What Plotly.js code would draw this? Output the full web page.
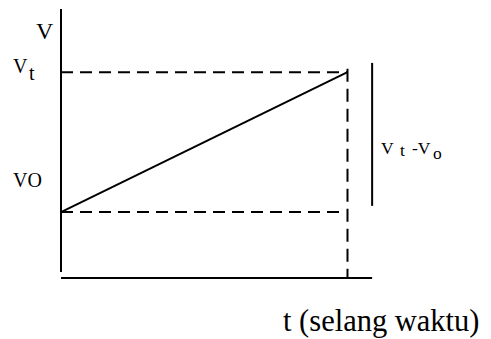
<!DOCTYPE html>
<html>
<head>
<meta charset="utf-8">
<script src="https://cdn.plot.ly/plotly-3.0.1.min.js"></script>
<style>html,body{margin:0;padding:0;background:#fff;}#chart{width:491px;height:339px;}</style>
</head>
<body>
<div id="chart"></div>
<script>
// Data (time and velocity in arbitrary units)
const tValues = [0, 10];          // start and end of the time interval
const vValues = [2, 6.25];        // v0 and vt
const axisT = [0, 10.86];         // horizontal axis extent
const axisV = [0.18, 8.17];       // vertical axis extent
const deltaBarV = [2.19, 6.53];   // bar marking vt - v0
const deltaBarT = 10.86;

// Label pieces: [text, t, v, size, xanchor]
const labelPieces = [
  ['V', -0.56, 7.50, 24, 'center'],
  ['V', -1.70, 6.44, 20, 'left'],
  ['t', -1.15, 6.22, 20, 'left'],
  ['VO', -1.72, 2.99, 20, 'left'],
  ['V', 11.15, 3.96, 17.5, 'left'],
  ['t', 11.80, 3.88, 17.5, 'left'],
  ['-V', 12.22, 3.96, 17.5, 'left'],
  ['o', 12.96, 3.80, 17.5, 'left'],
  ['t (selang waktu)', 7.72, -1.32, 30.5, 'left']
];

const black = '#000';
const fontFam = 'Liberation Serif, Times New Roman, serif';

const traces = [
  {x: [tValues[0], tValues[0]], y: axisV, mode: 'lines', line: {color: black, width: 2}},
  {x: axisT, y: [0, 0], mode: 'lines', line: {color: black, width: 2}},
  {x: tValues, y: vValues, mode: 'lines', line: {color: black, width: 2}},
  {x: [tValues[0], tValues[1]], y: [vValues[1], vValues[1]], mode: 'lines', line: {color: black, width: 2, dash: '12px,7px'}},
  {x: [tValues[0], tValues[1] - 0.12], y: [vValues[0], vValues[0]], mode: 'lines', line: {color: black, width: 2, dash: '12px,7px'}},
  {x: [tValues[1], tValues[1]], y: [vValues[1] + 0.1, 0], mode: 'lines', line: {color: black, width: 2, dash: '13px,7px'}},
  {x: [deltaBarT, deltaBarT], y: deltaBarV, mode: 'lines', line: {color: black, width: 2}}
];

const layout = {
  width: 491, height: 339,
  margin: {l: 0, r: 0, t: 0, b: 0, pad: 0},
  paper_bgcolor: '#fff', plot_bgcolor: '#fff',
  showlegend: false,
  xaxis: {range: [-2.129, 15.009], visible: false, fixedrange: true},
  yaxis: {range: [-1.852, 8.44], visible: false, fixedrange: true},
  annotations: labelPieces.map(p => ({
    x: p[1], y: p[2], text: p[0], showarrow: false,
    xanchor: p[4], yanchor: 'middle', borderpad: 0,
    font: {family: fontFam, size: p[3], color: black}
  }))
};

Plotly.newPlot('chart', traces, layout, {staticPlot: true, displayModeBar: false});
</script>
</body>
</html>
